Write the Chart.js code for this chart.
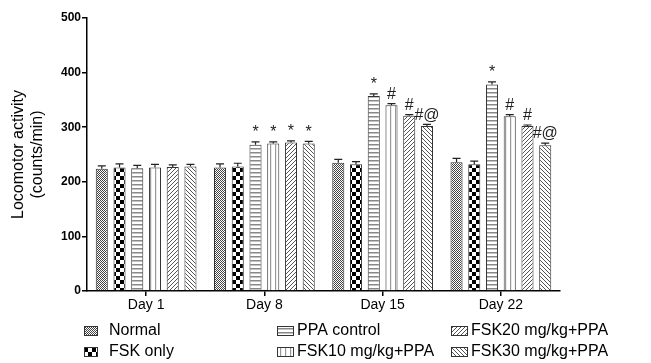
<!DOCTYPE html>
<html>
<head>
<meta charset="utf-8">
<script src="https://cdn.jsdelivr.net/npm/chart.js@4.4.1/dist/chart.umd.min.js"></script>
<style>
  html, body { margin: 0; padding: 0; background: #fff; }
  canvas { display: block; }
</style>
</head>
<body>
<canvas id="chart" width="651" height="363"></canvas>
<script>
const categories = ["Day 1", "Day 8", "Day 15", "Day 22"];
const yTicks = [0, 100, 200, 300, 400, 500];

const seriesNames = ["Normal", "FSK only", "PPA control", "FSK10 mg/kg+PPA", "FSK20 mg/kg+PPA", "FSK30 mg/kg+PPA"];

const normal = [224, 226, 235, 236];
const fskOnly = [226, 228, 232, 232];
const ppaControl = [225, 268, 357, 378];
const fsk10 = [226, 270, 340, 320];
const fsk20 = [227, 272, 321, 302];
const fsk30 = [228, 270, 302, 267];

const normalErr = [5, 7, 6, 7];
const fskOnlyErr = [7, 6, 5, 6];
const ppaControlErr = [5, 5, 4, 5];
const fsk10Err = [6, 3, 3, 3];
const fsk20Err = [4, 3, 2, 2];
const fsk30Err = [4, 4, 3, 4];

const normalMarks = ["", "", "", ""];
const fskOnlyMarks = ["", "", "", ""];
const ppaControlMarks = ["", "*", "*", "*"];
const fsk10Marks = ["", "*", "#", "#"];
const fsk20Marks = ["", "*", "#", "#"];
const fsk30Marks = ["", "*", "#@", "#@"];

// small tiles used as bar fills
function makePattern(kind) {
  const c = document.createElement("canvas");
  let s = 4;
  if (kind === "checker") s = 8;
  if (kind === "dots") s = 2;
  if (kind === "vlines") s = 5;
  c.width = s;
  c.height = s;
  const g = c.getContext("2d");
  g.fillStyle = "#fff";
  g.fillRect(0, 0, s, s);
  if (kind === "dots") {
    g.fillStyle = "#444";
    g.fillRect(0, 0, 1, 1);
    g.fillRect(1, 1, 1, 1);
  } else if (kind === "checker") {
    g.fillStyle = "#000";
    g.fillRect(0, 0, 4, 4);
    g.fillRect(4, 4, 4, 4);
  } else if (kind === "hlines") {
    g.fillStyle = "#888";
    g.fillRect(0, 0, s, 1.5);
  } else if (kind === "vlines") {
    g.fillStyle = "#999";
    g.fillRect(0, 0, 1.2, s);
  } else if (kind === "up" || kind === "down") {
    g.fillStyle = "#555";
    for (let i = 0; i < s; i++) {
      const x = kind === "up" ? s - 1 - i : i;
      g.fillRect(x, i, 1, 1);
    }
  }
  return g.createPattern(c, "repeat");
}

const kinds = ["dots", "checker", "hlines", "vlines", "up", "down"];
const patterns = kinds.map(makePattern);
const values = [normal, fskOnly, ppaControl, fsk10, fsk20, fsk30];
const errors = [normalErr, fskOnlyErr, ppaControlErr, fsk10Err, fsk20Err, fsk30Err];
const marks = [normalMarks, fskOnlyMarks, ppaControlMarks, fsk10Marks, fsk20Marks, fsk30Marks];

const errorBars = {
  id: "errorBars",
  afterDatasetsDraw(chart) {
    const ctx = chart.ctx;
    const y = chart.scales.y;
    ctx.save();
    ctx.strokeStyle = "#222";
    ctx.lineWidth = 1.2;
    ctx.fillStyle = "#222";
    ctx.font = "16px 'Liberation Sans', Arial, sans-serif";
    ctx.textAlign = "center";
    ctx.textBaseline = "bottom";
    chart.data.datasets.forEach((ds, i) => {
      const meta = chart.getDatasetMeta(i);
      meta.data.forEach((bar, j) => {
        const top = y.getPixelForValue(ds.data[j] + errors[i][j]);
        const base = y.getPixelForValue(ds.data[j]);
        ctx.beginPath();
        ctx.moveTo(bar.x, base);
        ctx.lineTo(bar.x, top);
        ctx.moveTo(bar.x - 4, top);
        ctx.lineTo(bar.x + 4, top);
        ctx.stroke();
        if (marks[i][j]) {
          ctx.fillText(marks[i][j], bar.x, top - 1);
        }
      });
    });
    ctx.restore();
  },
};

const legendBox = {
  id: "legendBox",
  afterDraw(chart) {
    const ctx = chart.ctx;
    const cols = [[84, 109], [277, 297], [451, 471]];
    const rows = [331, 352];
    ctx.save();
    ctx.font = "16px 'Liberation Sans', Arial, sans-serif";
    ctx.textBaseline = "middle";
    ctx.fillStyle = "#000";
    seriesNames.forEach((name, i) => {
      const col = cols[Math.floor(i / 2)];
      const ry = rows[i % 2];
      const w = i < 2 ? 13 : 16;
      ctx.fillStyle = patterns[i];
      ctx.fillRect(col[0], ry - 5, w, 9);
      ctx.strokeStyle = "#333";
      ctx.lineWidth = 1;
      ctx.strokeRect(col[0] + 0.5, ry - 4.5, w, 9);
      ctx.fillStyle = "#000";
      ctx.fillText(name, col[1], ry);
    });
    ctx.restore();
  },
};

const ctx = document.getElementById("chart").getContext("2d");
const chart = new Chart(ctx, {
  type: "bar",
  data: {
    labels: categories,
    datasets: values.map((v, i) => ({
      label: seriesNames[i],
      data: v,
      backgroundColor: patterns[i],
      borderColor: "#333",
      borderWidth: 1,
      categoryPercentage: 0.9,
      barPercentage: 0.68,
    })),
  },
  options: {
    responsive: false,
    animation: false,
    devicePixelRatio: 1,
    layout: { padding: { top: 18, right: 91, bottom: 0, left: 0 } },
    plugins: {
      legend: { display: false },
      tooltip: { enabled: false },
    },
    scales: {
      x: {
        afterFit: (s) => { s.height = 72; },
        grid: { drawOnChartArea: false, drawTicks: true, tickLength: 5, offset: false, color: "#000", lineWidth: 1.5 },
        border: { color: "#000", width: 1.5 },
        ticks: { color: "#000", padding: 1, font: { family: "'Liberation Sans', Arial, sans-serif", size: 14 } },
      },
      y: {
        min: 0,
        max: 500,
        afterFit: (s) => { s.width = 87; },
        afterBuildTicks: (s) => { s.ticks = yTicks.map((v) => ({ value: v })); },
        grid: { drawOnChartArea: false, drawTicks: true, tickLength: 5, color: "#000", lineWidth: 1.5 },
        border: { color: "#000", width: 1.5 },
        ticks: { color: "#000", padding: 1, font: { family: "'Liberation Sans', Arial, sans-serif", size: 12, weight: "bold" } },
        title: {
          display: true,
          text: ["Locomotor activity", "(counts/min)"],
          color: "#000",
          padding: { top: 9, bottom: 0 },
          font: { family: "'Liberation Sans', Arial, sans-serif", size: 16 },
        },
      },
    },
  },
  plugins: [errorBars, legendBox],
});
</script>
</body>
</html>
